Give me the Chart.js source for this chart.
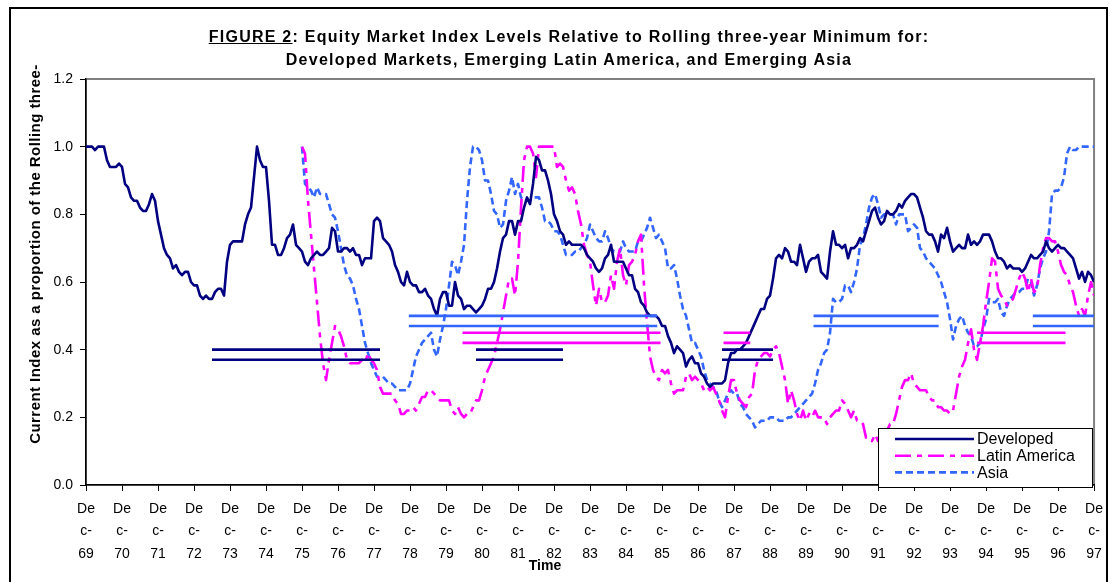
<!DOCTYPE html>
<html>
<head>
<meta charset="utf-8">
<script src="https://cdn.jsdelivr.net/npm/chart.js@4.4.1/dist/chart.umd.min.js"></script>
<style>
body { margin: 0; background: #fff; }
#wrap { position: relative; width: 1110px; height: 582px; overflow: hidden; font-family: "Liberation Sans", Arial, sans-serif; color: #000; }
#frame { position: absolute; left: 9px; top: 7px; width: 1099px; height: 620px; border: 2px solid #000; box-sizing: border-box; }
#title { position: absolute; left: 569px; top: 25px; transform: translateX(-50%); white-space: nowrap; text-align: center; font-weight: bold; font-size: 16px; letter-spacing: 1.25px; line-height: 23px; }
#title u { text-decoration: underline; }
#ytitle { position: absolute; left: -175px; top: 245px; width: 420px; height: 18px; line-height: 18px; text-align: center; white-space: nowrap; font-weight: bold; font-size: 15px; letter-spacing: 0.45px; transform: rotate(-90deg); }
#xtitle { position: absolute; left: 545px; top: 557px; transform: translateX(-50%); font-weight: bold; font-size: 14px; line-height: 16px; }
canvas { position: absolute; left: 0; top: 0; }
</style>
</head>
<body>
<div id="wrap">
  <canvas id="myChart" width="1110" height="582"></canvas>
  <div id="frame"></div>
  <div id="title"><u>FIGURE 2</u>: Equity Market Index Levels Relative to Rolling three-year Minimum for:<br>Developed Markets, Emerging Latin America, and Emerging Asia</div>
  <div id="ytitle">Current Index as a proportion of the Rolling three-</div>
  <div id="xtitle">Time</div>
</div>
<script>
// months counted from Dec-69 (0) to Dec-97 (336)
var yearLabels = ['69','70','71','72','73','74','75','76','77','78','79','80','81','82','83',
                  '84','85','86','87','88','89','90','91','92','93','94','95','96','97'];
var yTicks = [0, 0.2, 0.4, 0.6, 0.8, 1.0, 1.2];

var developedStart = 0;
var developed = [
 1.00,1.00,1.00,0.99,1.00,1.00,1.00,0.96,0.94,0.94,
 0.94,0.95,0.94,0.89,0.88,0.85,0.84,0.84,0.82,0.81,
 0.81,0.83,0.86,0.84,0.78,0.74,0.70,0.68,0.67,0.64,
 0.65,0.63,0.62,0.63,0.63,0.60,0.59,0.59,0.56,0.55,
 0.56,0.55,0.55,0.57,0.58,0.58,0.56,0.66,0.71,0.72,
 0.72,0.72,0.72,0.77,0.80,0.82,0.91,1.00,0.96,0.94,
 0.94,0.84,0.71,0.71,0.68,0.68,0.70,0.73,0.74,0.77,
 0.71,0.70,0.69,0.66,0.65,0.67,0.68,0.69,0.68,0.68,
 0.69,0.70,0.76,0.75,0.69,0.69,0.70,0.70,0.69,0.70,
 0.68,0.68,0.65,0.67,0.67,0.67,0.78,0.79,0.78,0.73,
 0.72,0.71,0.69,0.65,0.63,0.60,0.59,0.63,0.60,0.59,
 0.59,0.57,0.57,0.58,0.56,0.55,0.52,0.50,0.55,0.57,
 0.57,0.53,0.53,0.60,0.56,0.55,0.52,0.53,0.53,0.52,
 0.51,0.52,0.53,0.55,0.58,0.58,0.60,0.64,0.69,0.73,
 0.74,0.78,0.78,0.74,0.78,0.78,0.82,0.85,0.83,0.89,
 0.97,0.96,0.93,0.93,0.90,0.86,0.80,0.78,0.75,0.74,
 0.71,0.72,0.71,0.71,0.71,0.71,0.70,0.68,0.67,0.66,
 0.64,0.63,0.64,0.67,0.68,0.71,0.66,0.66,0.66,0.66,
 0.64,0.62,0.62,0.58,0.57,0.54,0.53,0.51,0.50,0.50,
 0.50,0.49,0.47,0.47,0.44,0.42,0.39,0.41,0.40,0.39,
 0.35,0.37,0.38,0.36,0.36,0.33,0.32,0.30,0.29,0.30,
 0.30,0.30,0.30,0.31,0.36,0.39,0.39,0.40,0.40,0.41,
 0.42,0.44,0.46,0.48,0.50,0.52,0.52,0.55,0.56,0.61,
 0.67,0.68,0.67,0.70,0.69,0.66,0.66,0.65,0.71,0.67,
 0.63,0.66,0.67,0.67,0.68,0.63,0.62,0.61,0.69,0.75,
 0.71,0.71,0.70,0.71,0.67,0.70,0.70,0.71,0.73,0.72,
 0.75,0.78,0.81,0.82,0.79,0.77,0.78,0.81,0.80,0.80,
 0.81,0.83,0.82,0.84,0.85,0.86,0.86,0.85,0.82,0.79,
 0.75,0.74,0.74,0.72,0.69,0.74,0.73,0.76,0.72,0.69,
 0.70,0.71,0.70,0.70,0.74,0.71,0.72,0.71,0.72,0.74,
 0.74,0.74,0.72,0.69,0.67,0.67,0.66,0.64,0.65,0.64,
 0.64,0.64,0.63,0.64,0.66,0.68,0.67,0.67,0.68,0.69,
 0.72,0.70,0.69,0.70,0.71,0.70,0.70,0.69,0.68,0.67,
 0.64,0.61,0.63,0.60,0.63,0.62,0.60
];

var latinStart = 72;
var latin = [
 1.00,0.98,0.84,0.74,0.64,0.54,0.44,0.36,
 0.31,0.37,0.42,0.47,0.46,0.44,0.41,0.37,0.36,0.36,
 0.36,0.36,0.37,0.36,0.39,0.37,0.36,0.34,0.29,0.27,
 0.27,0.27,0.27,0.25,0.24,0.21,0.21,0.22,0.22,0.23,
 0.22,0.24,0.26,0.26,0.28,0.28,0.27,0.26,0.25,0.25,
 0.25,0.25,0.22,0.21,0.23,0.21,0.20,0.21,0.21,0.23,
 0.25,0.25,0.28,0.32,0.34,0.36,0.38,0.42,0.46,0.51,
 0.56,0.61,0.61,0.56,0.66,0.82,0.96,1.00,1.00,0.98,
 0.91,1.00,1.00,1.00,1.00,1.00,1.00,0.94,0.95,0.94,
 0.90,0.87,0.88,0.86,0.81,0.77,0.71,0.68,0.66,0.59,
 0.53,0.58,0.54,0.54,0.56,0.62,0.58,0.66,0.70,0.62,
 0.59,0.65,0.66,0.68,0.72,0.74,0.59,0.48,0.38,0.34,
 0.32,0.31,0.34,0.33,0.34,0.30,0.27,0.28,0.28,0.28,
 0.32,0.33,0.31,0.32,0.31,0.30,0.28,0.29,0.28,0.29,
 0.27,0.25,0.22,0.20,0.26,0.31,0.31,0.27,0.25,0.24,
 0.23,0.26,0.27,0.34,0.37,0.38,0.39,0.39,0.38,0.40,
 0.41,0.39,0.35,0.31,0.24,0.28,0.25,0.21,0.19,0.22,
 0.19,0.21,0.20,0.22,0.20,0.20,0.20,0.18,0.20,0.21,
 0.22,0.22,0.25,0.24,0.22,0.20,0.22,0.19,0.19,0.18,
 0.14,0.14,0.13,0.15,0.13,0.15,0.15,0.16,0.18,0.18,
 0.21,0.25,0.29,0.31,0.31,0.33,0.30,0.29,0.28,0.28,
 0.28,0.26,0.25,0.25,0.23,0.23,0.22,0.22,0.21,0.22,
 0.27,0.32,0.35,0.37,0.42,0.46,0.40,0.37,0.42,0.47,
 0.54,0.60,0.67,0.66,0.58,0.56,0.55,0.53,0.54,0.55,
 0.58,0.61,0.63,0.61,0.57,0.61,0.57,0.58,0.65,0.70,
 0.73,0.73,0.72,0.72,0.69,0.65,0.63,0.62,0.59,0.57,
 0.53,0.50,0.52,0.50,0.56,0.60,0.56
];

var asiaStart = 72;
var asia = [
 1.00,0.89,0.88,0.87,0.85,0.88,0.86,0.86,
 0.86,0.83,0.80,0.79,0.75,0.70,0.65,0.62,0.61,0.59,
 0.55,0.52,0.47,0.42,0.39,0.36,0.34,0.32,0.32,0.32,
 0.31,0.30,0.30,0.29,0.28,0.28,0.28,0.28,0.30,0.34,
 0.38,0.40,0.42,0.43,0.44,0.45,0.40,0.38,0.43,0.47,
 0.52,0.59,0.66,0.65,0.62,0.66,0.71,0.84,0.94,1.00,
 1.00,0.99,0.96,0.90,0.90,0.86,0.81,0.80,0.76,0.77,
 0.84,0.87,0.91,0.86,0.89,0.85,0.84,0.84,0.84,0.85,
 0.85,0.85,0.82,0.78,0.78,0.77,0.75,0.75,0.74,0.71,
 0.68,0.68,0.68,0.69,0.69,0.70,0.71,0.73,0.77,0.75,
 0.73,0.72,0.72,0.75,0.73,0.70,0.69,0.69,0.69,0.72,
 0.70,0.69,0.69,0.69,0.72,0.72,0.74,0.76,0.79,0.76,
 0.73,0.74,0.72,0.70,0.64,0.64,0.65,0.61,0.56,0.52,
 0.50,0.46,0.42,0.42,0.40,0.38,0.34,0.31,0.30,0.29,
 0.28,0.25,0.23,0.25,0.27,0.28,0.27,0.27,0.24,0.23,
 0.21,0.20,0.19,0.17,0.18,0.19,0.19,0.19,0.20,0.20,
 0.20,0.19,0.19,0.19,0.20,0.20,0.21,0.22,0.23,0.24,
 0.25,0.26,0.27,0.30,0.34,0.36,0.39,0.40,0.45,0.55,
 0.54,0.54,0.55,0.59,0.59,0.57,0.60,0.64,0.71,0.73,
 0.77,0.82,0.85,0.86,0.83,0.79,0.80,0.80,0.80,0.80,
 0.77,0.80,0.80,0.80,0.75,0.76,0.77,0.76,0.70,0.69,
 0.67,0.66,0.65,0.64,0.62,0.60,0.57,0.54,0.49,0.43,
 0.47,0.49,0.50,0.47,0.45,0.44,0.41,0.41,0.42,0.46,
 0.49,0.55,0.54,0.54,0.55,0.51,0.50,0.53,0.55,0.56,
 0.57,0.57,0.58,0.58,0.61,0.60,0.56,0.59,0.64,0.67,
 0.69,0.75,0.86,0.87,0.87,0.88,0.91,0.98,1.00,0.99,
 0.99,1.00,1.00,1.00,1.00,1.00,1.00
];

// horizontal marker pairs: [from month, to month], drawn at two levels each
var developedBands = [[42, 98], [130, 159], [212, 229]];
var developedLevels = [0.40, 0.37];
var latinBands = [[125.5, 191.5], [212.5, 221.4], [297, 326.5]];
var latinLevels = [0.45, 0.42];
var asiaBands = [[107.6, 190.4], [242.5, 284.2], [315.6, 336]];
var asiaLevels = [0.50, 0.47];

var navy = '#000080';
var magenta = '#FF00FF';
var blue = '#3366FF';
var fontFamily = '"Liberation Sans", Arial, sans-serif';

function toPoints(start, values) {
    var pts = [];
    for (var i = 0; i < values.length; i++) {
        pts.push({ x: start + i, y: values[i] });
    }
    return pts;
}

function bandPoints(bands, level) {
    var pts = [];
    for (var i = 0; i < bands.length; i++) {
        if (i > 0) pts.push({ x: bands[i][0], y: null });
        pts.push({ x: bands[i][0], y: level });
        pts.push({ x: bands[i][1], y: level });
    }
    return pts;
}

var datasets = [];
var bandSets = [[developedBands, developedLevels, navy], [latinBands, latinLevels, magenta], [asiaBands, asiaLevels, blue]];
for (var b = 0; b < bandSets.length; b++) {
    for (var l = 0; l < 2; l++) {
        datasets.push({
            label: 'band',
            data: bandPoints(bandSets[b][0], bandSets[b][1][l]),
            borderColor: bandSets[b][2],
            borderWidth: 2.6,
            spanGaps: false
        });
    }
}
datasets.push({
    label: 'Developed',
    data: toPoints(developedStart, developed),
    borderColor: navy,
    borderWidth: 2.6
});
datasets.push({
    label: 'Latin America',
    data: toPoints(latinStart, latin),
    borderColor: magenta,
    borderWidth: 2.6,
    borderDash: [16, 6, 5, 6]
});
datasets.push({
    label: 'Asia',
    data: toPoints(asiaStart, asia),
    borderColor: blue,
    borderWidth: 2.6,
    borderDash: [7, 4]
});

var plotFrame = {
    id: 'plotFrame',
    beforeDraw: function (chart) {
        var a = chart.chartArea, c = chart.ctx;
        c.save();
        c.strokeStyle = '#808080';
        c.lineWidth = 2;
        c.strokeRect(a.left, a.top, a.right - a.left, a.bottom - a.top);
        c.restore();
    }
};

var boxLegend = {
    id: 'boxLegend',
    afterDraw: function (chart) {
        var c = chart.ctx;
        var names = ['Developed', 'Latin America', 'Asia'];
        var x0 = 878, y0 = 428, w = 214, h = 59;
        c.save();
        c.fillStyle = '#fff';
        c.fillRect(x0, y0, w, h);
        c.strokeStyle = '#000';
        c.lineWidth = 1;
        c.strokeRect(x0 + 0.5, y0 + 0.5, w, h);
        c.font = '16px ' + fontFamily;
        c.textBaseline = 'middle';
        c.fillStyle = '#000';
        for (var i = 0; i < names.length; i++) {
            var ds = chart.data.datasets[6 + i];
            var yy = y0 + 11 + i * 16.7;
            c.beginPath();
            c.strokeStyle = ds.borderColor;
            c.lineWidth = 2.6;
            c.setLineDash(ds.borderDash || []);
            c.moveTo(x0 + 17, yy);
            c.lineTo(x0 + 96, yy);
            c.stroke();
            c.setLineDash([]);
            c.fillText(names[i], x0 + 99, yy + 1);
        }
        c.restore();
    }
};

var ctx = document.getElementById('myChart').getContext('2d');
var chart = new Chart(ctx, {
    type: 'line',
    data: { datasets: datasets },
    options: {
        responsive: false,
        animation: false,
        devicePixelRatio: 1,
        layout: { padding: { top: 79, right: 14, left: 0, bottom: 0 } },
        elements: { point: { radius: 0 }, line: { tension: 0, borderJoinStyle: 'round' } },
        plugins: { legend: { display: false }, tooltip: { enabled: false }, title: { display: false } },
        scales: {
            x: {
                type: 'linear',
                min: 0,
                max: 336,
                afterFit: function (s) { s.height = 97; },
                afterBuildTicks: function (s) {
                    s.ticks = yearLabels.map(function (lab, i) { return { value: i * 12 }; });
                },
                ticks: {
                    autoSkip: false,
                    maxRotation: 0,
                    padding: 7,
                    color: '#000',
                    font: { family: fontFamily, size: 14, lineHeight: 1.6 },
                    callback: function (v) { return ['De', 'c-', yearLabels[Math.round(v / 12)]]; }
                },
                grid: { drawOnChartArea: false, color: '#000', tickLength: 6 },
                border: { color: '#000', width: 1.5 }
            },
            y: {
                min: 0,
                max: 1.2,
                afterFit: function (s) { s.width = 86; },
                afterBuildTicks: function (s) {
                    s.ticks = yTicks.map(function (v) { return { value: v }; });
                },
                ticks: {
                    padding: 7,
                    color: '#000',
                    font: { family: fontFamily, size: 14 },
                    callback: function (v) { return v.toFixed(1); }
                },
                grid: { drawOnChartArea: false, color: '#000', tickLength: 6 },
                border: { color: '#000', width: 1.5 }
            }
        }
    },
    plugins: [plotFrame, boxLegend]
});
</script>
</body>
</html>
